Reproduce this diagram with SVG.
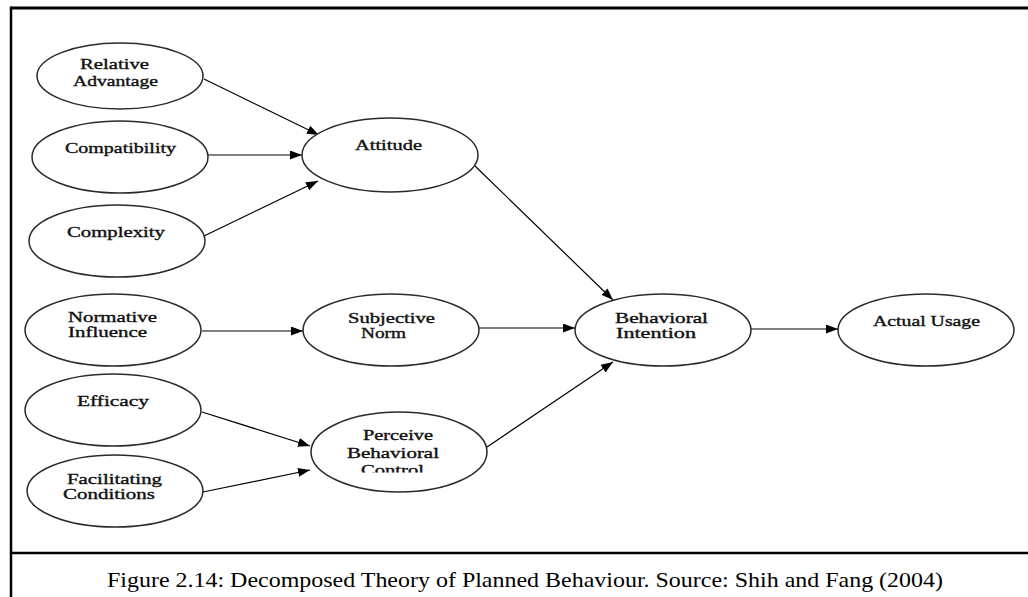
<svg xmlns="http://www.w3.org/2000/svg" width="1028" height="597" viewBox="0 0 1028 597">
  <style>
    .node ellipse { fill: #fff; stroke: #2a2a2a; stroke-width: 1.5; }
    .node text { font-family: "Liberation Serif", "Times New Roman", serif; font-size: 14px; fill: #111; stroke: #111; stroke-width: 0.35; }
    .edge { stroke: #000; stroke-width: 1.2; fill: none; marker-end: url(#arrow); }
    .frame { stroke: #000; fill: none; }
    .caption { font-family: "Liberation Serif", "Times New Roman", serif; font-size: 22px; fill: #000; }
  </style>
  <defs>
    <marker id="arrow" markerUnits="userSpaceOnUse" markerWidth="13" markerHeight="10" refX="12" refY="4.5" orient="auto">
      <path d="M0,0 L12,4.5 L0,9 z" fill="#000"/>
    </marker>
    <clipPath id="pbc-clip">
      <rect x="300" y="420" width="200" height="52.5"/>
    </clipPath>
  </defs>

  <rect width="1028" height="597" fill="#fff"/>

  <!-- outer frame and caption divider -->
  <g id="frame">
    <line class="frame" x1="11" y1="8" x2="1028" y2="8" stroke-width="3"/>
    <line class="frame" x1="11" y1="6.5" x2="11" y2="597" stroke-width="2.5"/>
    <line class="frame" x1="11" y1="553" x2="1028" y2="553" stroke-width="2.5"/>
  </g>

  <!-- connectors -->
  <g id="connectors">
    <line class="edge" x1="204" y1="79" x2="319" y2="135"/>
    <line class="edge" x1="207" y1="155" x2="302" y2="155"/>
    <line class="edge" x1="204" y1="236" x2="318" y2="181"/>
    <line class="edge" x1="475" y1="166" x2="613" y2="300"/>
    <line class="edge" x1="479" y1="328" x2="575" y2="328"/>
    <line class="edge" x1="487" y1="447" x2="613" y2="362"/>
    <line class="edge" x1="202" y1="331" x2="303" y2="331"/>
    <line class="edge" x1="202" y1="412" x2="310" y2="446"/>
    <line class="edge" x1="203" y1="492" x2="310" y2="470"/>
    <line class="edge" x1="751" y1="329" x2="838" y2="329"/>
  </g>

  <g id="relative-advantage" class="node">
    <ellipse cx="120" cy="76" rx="83" ry="33"/>
    <text x="80" y="69" textLength="69" lengthAdjust="spacingAndGlyphs">Relative</text>
    <text x="73" y="86" textLength="85" lengthAdjust="spacingAndGlyphs">Advantage</text>
  </g>

  <g id="compatibility" class="node">
    <ellipse cx="120" cy="157" rx="88" ry="36"/>
    <text x="65" y="153" textLength="111" lengthAdjust="spacingAndGlyphs">Compatibility</text>
  </g>

  <g id="complexity" class="node">
    <ellipse cx="117" cy="241" rx="88" ry="36"/>
    <text x="67" y="237" textLength="98" lengthAdjust="spacingAndGlyphs">Complexity</text>
  </g>

  <g id="normative-influence" class="node">
    <ellipse cx="113" cy="330" rx="88" ry="36"/>
    <text x="68" y="322" textLength="89" lengthAdjust="spacingAndGlyphs">Normative</text>
    <text x="68" y="337" textLength="79" lengthAdjust="spacingAndGlyphs">Influence</text>
  </g>

  <g id="efficacy" class="node">
    <ellipse cx="113" cy="410" rx="88" ry="36"/>
    <text x="77" y="406" textLength="72" lengthAdjust="spacingAndGlyphs">Efficacy</text>
  </g>

  <g id="facilitating-conditions" class="node">
    <ellipse cx="115" cy="491" rx="88" ry="36"/>
    <text x="67" y="484" textLength="95" lengthAdjust="spacingAndGlyphs">Facilitating</text>
    <text x="63" y="499" textLength="92" lengthAdjust="spacingAndGlyphs">Conditions</text>
  </g>

  <g id="attitude" class="node">
    <ellipse cx="390" cy="155" rx="88" ry="37"/>
    <text x="355" y="150" textLength="67" lengthAdjust="spacingAndGlyphs">Attitude</text>
  </g>

  <g id="subjective-norm" class="node">
    <ellipse cx="391" cy="330" rx="88" ry="36"/>
    <text x="348" y="323" textLength="87" lengthAdjust="spacingAndGlyphs">Subjective</text>
    <text x="361" y="338" textLength="45" lengthAdjust="spacingAndGlyphs">Norm</text>
  </g>

  <g id="perceived-behavioral-control" class="node">
    <ellipse cx="399" cy="452" rx="88" ry="40"/>
    <g clip-path="url(#pbc-clip)">
      <text x="363" y="440" textLength="70" lengthAdjust="spacingAndGlyphs">Perceive</text>
      <text x="347" y="458" textLength="92" lengthAdjust="spacingAndGlyphs">Behavioral</text>
      <text x="361" y="475" textLength="63" lengthAdjust="spacingAndGlyphs">Control</text>
    </g>
  </g>

  <g id="behavioral-intention" class="node">
    <ellipse cx="663" cy="330" rx="88" ry="36"/>
    <text x="615" y="323" textLength="93" lengthAdjust="spacingAndGlyphs">Behavioral</text>
    <text x="616" y="338" textLength="80" lengthAdjust="spacingAndGlyphs">Intention</text>
  </g>

  <g id="actual-usage" class="node">
    <ellipse cx="926" cy="330" rx="88" ry="36"/>
    <text x="873" y="326" textLength="107" lengthAdjust="spacingAndGlyphs">Actual Usage</text>
  </g>

  <g id="caption">
    <text class="caption" x="107" y="587" textLength="836" lengthAdjust="spacingAndGlyphs">Figure 2.14: Decomposed Theory of Planned Behaviour. Source: Shih and Fang (2004)</text>
  </g>
</svg>
